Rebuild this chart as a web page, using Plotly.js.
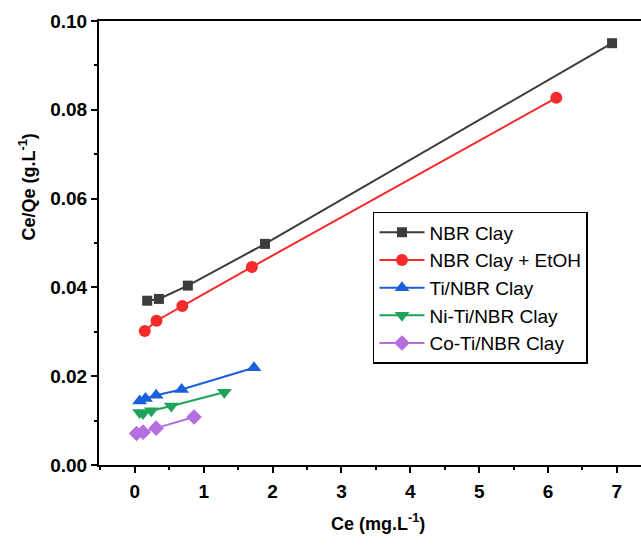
<!DOCTYPE html>
<html>
<head>
<meta charset="utf-8">
<script src="https://cdn.plot.ly/plotly-3.0.1.min.js"></script>
<style>html,body{margin:0;padding:0;background:#fff;}#chart{width:641px;height:545px;}</style>
</head>
<body>
<div id="chart"></div>
<script>
const seriesNames = ["NBR Clay", "NBR Clay + EtOH", "Ti/NBR Clay", "Ni-Ti/NBR Clay", "Co-Ti/NBR Clay"];

const nbrX = [0.18, 0.35, 0.77, 1.89, 6.93];
const nbrY = [0.0370, 0.0374, 0.0404, 0.0498, 0.0950];

const etohX = [0.145, 0.315, 0.69, 1.70, 6.12];
const etohY = [0.0302, 0.0325, 0.0358, 0.0446, 0.0827];

const tiX = [0.07, 0.155, 0.31, 0.68, 1.73];
const tiY = [0.0144, 0.0150, 0.0157, 0.0170, 0.0219];

const niX = [0.07, 0.12, 0.24, 0.53, 1.30];
const niY = [0.0118, 0.0116, 0.0122, 0.0133, 0.0164];

const coX = [0.025, 0.12, 0.31, 0.86];
const coY = [0.0071, 0.0074, 0.0083, 0.0108];

const xTicks = [0, 1, 2, 3, 4, 5, 6, 7];
const yTicks = [0, 0.02, 0.04, 0.06, 0.08, 0.10];
const yTickText = ["0.00", "0.02", "0.04", "0.06", "0.08", "0.10"];

const colors = ["#3c3c3c", "#f52a2a", "#1a5fdc", "#1fa35a", "#b46ee0"];
const symbols = ["square", "circle", "triangle-up", "triangle-down", "diamond"];
const sizes = [10, 12, 13, 13, 12];
const xs = [nbrX, etohX, tiX, niX, coX];
const ys = [nbrY, etohY, tiY, niY, coY];

const traces = seriesNames.map((n, i) => ({
  x: xs[i], y: ys[i], name: n, type: "scatter", mode: "lines+markers",
  line: {color: colors[i], width: 2},
  marker: {color: colors[i], symbol: symbols[i], size: sizes[i]}
}));

const font = "'Liberation Sans', Arial, sans-serif";
const layout = {
  width: 641, height: 545,
  margin: {l: 99, r: 0, t: 21, b: 80},
  paper_bgcolor: "#fff", plot_bgcolor: "#fff",
  font: {family: font, color: "#000"},
  showlegend: true,
  legend: {
    x: 0.5055, y: 0.57, xanchor: "left", yanchor: "top",
    bordercolor: "#000", borderwidth: 1.5, bgcolor: "#fff",
    font: {family: font, size: 19, color: "#000"},
    itemwidth: 45,
    tracegroupgap: 0
  },
  xaxis: {
    range: [-0.52, 7.35],
    tickmode: "array", tickvals: xTicks,
    ticks: "outside", ticklen: 6, tickwidth: 2, tickcolor: "#000",
    minor: {dtick: 0.5, ticks: "outside", ticklen: 3, tickwidth: 2, tickcolor: "#000", showgrid: false},
    showline: true, linewidth: 2, linecolor: "#000", mirror: true,
    showgrid: false, zeroline: false,
    tickfont: {family: font, size: 19, weight: "bold", color: "#000"},
    ticklabelstandoff: 2
  },
  yaxis: {
    range: [0, 0.1],
    tickmode: "array", tickvals: yTicks, ticktext: yTickText,
    ticks: "outside", ticklen: 6, tickwidth: 2, tickcolor: "#000",
    minor: {dtick: 0.01, ticks: "outside", ticklen: 3, tickwidth: 2, tickcolor: "#000", showgrid: false},
    showline: true, linewidth: 2, linecolor: "#000", mirror: false,
    showgrid: false, zeroline: false,
    tickfont: {family: font, size: 19, weight: "bold", color: "#000"}
  },
  annotations: [
    {text: "Ce (mg.L<sup>-1</sup>)", xref: "paper", yref: "paper", x: 0.515, y: -0.13,
     xanchor: "center", yanchor: "middle", showarrow: false,
     font: {family: font, size: 18, weight: "bold", color: "#000"}},
    {text: "Ce/Qe (g.L<sup>-1</sup>)", xref: "paper", yref: "paper", x: -0.132, y: 0.626,
     xanchor: "center", yanchor: "middle", showarrow: false, textangle: -90,
     font: {family: font, size: 18, weight: "bold", color: "#000"}}
  ]
};

Plotly.newPlot("chart", traces, layout, {displayModeBar: false, staticPlot: true});
</script>
</body>
</html>
